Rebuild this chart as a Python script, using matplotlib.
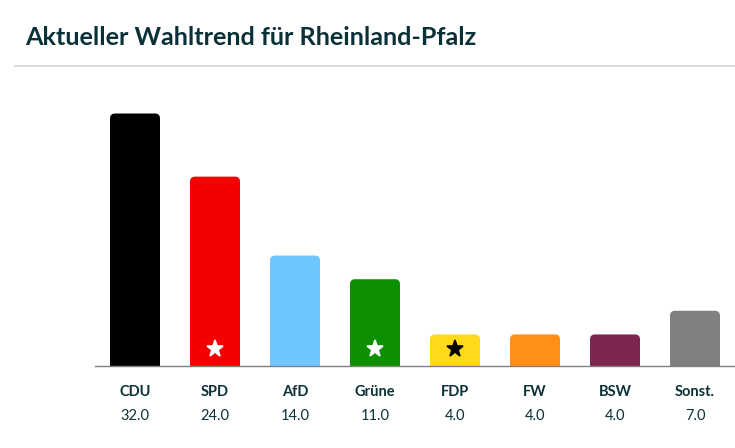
import matplotlib
matplotlib.use("Agg")
import matplotlib.pyplot as plt
from matplotlib.lines import Line2D
from matplotlib.path import Path
from matplotlib.patches import PathPatch

parties = ['CDU', 'SPD', 'AfD', 'Grüne', 'FDP', 'FW', 'BSW', 'Sonst.']
values = [32.0, 24.0, 14.0, 11.0, 4.0, 4.0, 4.0, 7.0]
colors = ['#000000', '#f40000', '#6fc6ff', '#0c8f00', '#ffd91a', '#ff8f17', '#7f2650', '#808080']
star_parties = ['SPD', 'Grüne', 'FDP']
star_colors = ['white', 'white', 'black']

DARK = '#0b3138'
W, H = 735, 448
plt.rcParams['font.family'] = ['Lato', 'DejaVu Sans']

fig = plt.figure(figsize=(W / 100, H / 100), dpi=100)
ax = fig.add_axes([95 / W, 1 - 366 / H, 640 / W, 300 / H])
ax.set_xlim(-0.5, 7.5)
ax.set_ylim(0, 300 / 7.89)


def rounded_bar(ax, x, height, color):
    # oben abgerundet, Radius 5 px
    w = 50 / 80
    rx = 5 / 80
    ry = 5 / 7.89
    l, r = x - w / 2, x + w / 2
    verts = [(l, 0), (l, height - ry), (l, height), (l + rx, height),
             (r - rx, height), (r, height), (r, height - ry), (r, 0), (l, 0)]
    codes = [Path.MOVETO, Path.LINETO, Path.CURVE3, Path.CURVE3,
             Path.LINETO, Path.CURVE3, Path.CURVE3, Path.LINETO, Path.CLOSEPOLY]
    ax.add_patch(PathPatch(Path(verts, codes), facecolor=color, edgecolor='none'))


for i, v in enumerate(values):
    rounded_bar(ax, i, v, colors[i])

for p, c in zip(star_parties, star_colors):
    ax.plot(parties.index(p), 2.2, marker='*', color=c, markersize=12.5, markeredgecolor=c,
            markeredgewidth=1.2, linestyle='none')

for s in ['top', 'left', 'right']:
    ax.spines[s].set_visible(False)
ax.spines['bottom'].set_color('#808080')
ax.spines['bottom'].set_linewidth(1)

ax.set_yticks([])
ax.set_xticks(range(len(parties)))
ax.set_xticklabels(parties, fontsize=10.5, fontweight='bold', color=DARK)
ax.tick_params(axis='x', length=0, pad=13.5)

for i, v in enumerate(values):
    ax.annotate(f'{v:.1f}', (i, 0), xytext=(0, -49.5 * 0.72), textcoords='offset points',
                ha='center', va='center', fontsize=10.5, color=DARK, annotation_clip=False)

fig.text(25 / W, 1 - 45 / H, 'Aktueller Wahltrend für Rheinland-Pfalz', fontsize=18.2, fontweight='bold',
         color=DARK, ha='left', va='baseline')
fig.add_artist(Line2D([15 / W, 1], [1 - 66 / H, 1 - 66 / H], color='#dddddd', linewidth=1.4))

fig.savefig('out.png', dpi=100)
